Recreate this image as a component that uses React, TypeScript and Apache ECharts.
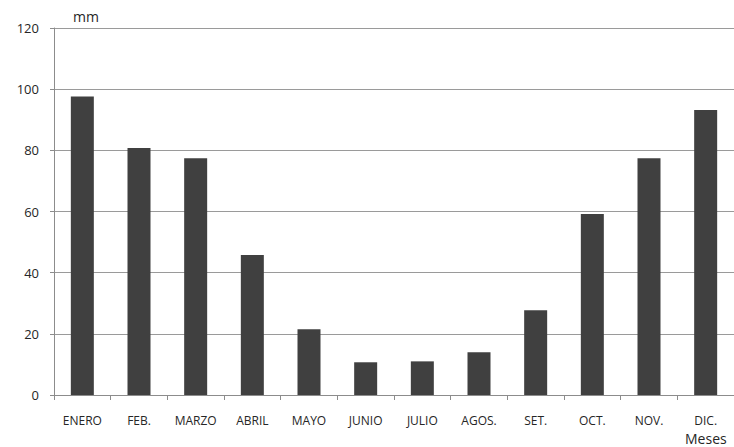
import React, { useEffect, useRef } from "react";
import * as echarts from "echarts";

// Monthly precipitation (mm)
const months = ["ENERO", "FEB.", "MARZO", "ABRIL", "MAYO", "JUNIO", "JULIO", "AGOS.", "SET.", "OCT.", "NOV.", "DIC."];
const rainfall = [97.6, 80.8, 77.4, 45.8, 21.5, 10.7, 11.0, 14.0, 27.7, 59.2, 77.4, 93.2];
const yMin = 0;
const yMax = 120;
const yStep = 20;

const FONT = "'Open Sans', 'Liberation Sans', sans-serif";
const TEXT = "#262626";

export default function App() {
  const ref = useRef<HTMLDivElement>(null);

  useEffect(() => {
    document.body.style.margin = "0";
    if (!ref.current) return;
    const chart = echarts.init(ref.current, null, { renderer: "svg" });
    chart.setOption({
      animation: false,
      backgroundColor: "#ffffff",
      grid: { left: 54, right: 0, top: 28, bottom: 52, containLabel: false },
      xAxis: {
        type: "category",
        data: months,
        boundaryGap: true,
        axisLine: { lineStyle: { color: "#8c8c8c", width: 1 } },
        axisTick: { show: true, alignWithLabel: false, length: 5, lineStyle: { color: "#8c8c8c" } },
        axisLabel: { color: TEXT, fontFamily: FONT, fontSize: 12, margin: 19, interval: 0 },
        splitLine: { show: false },
      },
      yAxis: {
        type: "value",
        min: yMin,
        max: yMax,
        interval: yStep,
        axisLine: { show: true, lineStyle: { color: "#8c8c8c", width: 1 } },
        axisTick: { show: true, length: 4, lineStyle: { color: "#8c8c8c" } },
        axisLabel: { color: TEXT, fontFamily: FONT, fontSize: 13, margin: 15 },
        splitLine: { show: true, lineStyle: { color: "#9a9a9a", width: 1 } },
      },
      graphic: [
        {
          type: "text",
          left: 73,
          top: 9,
          style: { text: "mm", fill: TEXT, font: `14px ${FONT}` },
        },
        {
          type: "text",
          left: 685,
          top: 431,
          style: { text: "Meses", fill: TEXT, font: `14px ${FONT}` },
        },
      ],
      series: [
        {
          type: "bar",
          data: rainfall,
          barWidth: 23,
          itemStyle: { color: "#404040" },
        },
      ],
    });
    return () => chart.dispose();
  }, []);

  return <div ref={ref} style={{ width: 734, height: 447 }} />;
}
